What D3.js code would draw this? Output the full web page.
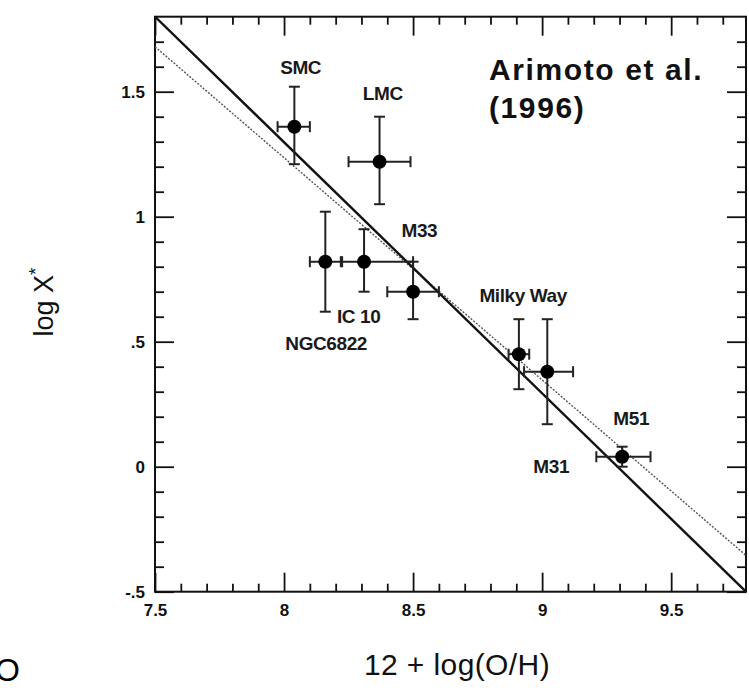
<!DOCTYPE html>
<html>
<head>
<meta charset="utf-8">
<script src="https://cdn.jsdelivr.net/npm/d3@7"></script>
<style>
  body { margin: 0; background: #fff; }
  svg text { font-family: "Liberation Sans", Arial, sans-serif; }
</style>
</head>
<body>
<div id="chart"></div>
<script>
// galaxies, 12+log(O/H) vs log X*
const galaxies     = ["SMC", "LMC", "NGC6822", "IC 10", "M33", "Milky Way", "Milky Way", "M51/M31"];
const ohValues     = [8.04, 8.37, 8.16, 8.31, 8.50, 8.91, 9.02, 9.31];
const ohErrLow     = [0.065, 0.12, 0.06, 0.09, 0.10, 0.04, 0.09, 0.10];
const ohErrHigh    = [0.06, 0.12, 0.065, 0.19, 0.10, 0.04, 0.10, 0.11];
const logXValues   = [1.36, 1.22, 0.82, 0.82, 0.70, 0.45, 0.38, 0.04];
const logXErrLow   = [0.15, 0.17, 0.20, 0.12, 0.11, 0.14, 0.21, 0.04];
const logXErrHigh  = [0.16, 0.18, 0.20, 0.13, 0.12, 0.14, 0.21, 0.04];

// fitted relations (end points in data units)
const solidFit  = [[7.5, 1.80], [9.79, -0.50]];
const dottedFit = [[7.5, 1.68], [9.79, -0.355]];

// point labels, placed in data units
const labelText = ["SMC", "LMC", "M33", "IC 10", "NGC6822", "Milky Way", "M51", "M31"];
const labelX    = [7.985, 8.305, 8.455, 8.205, 8.005, 8.757, 9.276, 8.966];
const labelY    = [1.571, 1.467, 0.919, 0.575, 0.467, 0.660, 0.167, -0.026];

const xTickLabels = ["7.5", "8", "8.5", "9", "9.5"];
const yTickLabels = ["-.5", "0", ".5", "1", "1.5"];
const xMajor = [7.5, 8, 8.5, 9, 9.5];
const yMajor = [-0.5, 0, 0.5, 1, 1.5];

const W = 749, H = 691;
const margin = { top: 16.7, left: 155 },
      width = 591,
      height = 575;

const svg = d3.select("#chart").append("svg")
    .attr("width", W)
    .attr("height", H);

const g = svg.append("g")
    .attr("transform", `translate(${margin.left},${margin.top})`);

const x = d3.scaleLinear().domain([7.5, 9.79]).range([0, width]);
const y = d3.scaleLinear().domain([-0.5, 1.8]).range([height, 0]);

const xMinor = d3.range(76, 98).map(d => d / 10).filter(d => !xMajor.includes(d));
const yMinor = d3.range(-4, 18).map(d => d / 10).filter(d => !yMajor.includes(d));

function styleAxis(sel) {
    sel.select(".domain").remove();
    sel.selectAll(".tick line").attr("stroke", "#111").attr("stroke-width", 1.8);
    sel.selectAll(".tick text")
       .attr("fill", "#111")
       .attr("font-size", 17)
       .attr("font-weight", "bold");
}

// bottom
g.append("g").attr("transform", `translate(0,${height})`)
  .call(d3.axisBottom(x).tickValues(xMajor).tickSize(-19).tickPadding(12)
        .tickFormat((d, i) => xTickLabels[i]))
  .call(styleAxis);
g.append("g").attr("transform", `translate(0,${height})`)
  .call(d3.axisBottom(x).tickValues(xMinor).tickSize(-8).tickFormat(""))
  .call(styleAxis);
// top
g.append("g")
  .call(d3.axisTop(x).tickValues(xMajor).tickSize(-19).tickFormat(""))
  .call(styleAxis);
g.append("g")
  .call(d3.axisTop(x).tickValues(xMinor).tickSize(-8).tickFormat(""))
  .call(styleAxis);
// left
g.append("g")
  .call(d3.axisLeft(y).tickValues(yMajor).tickSize(-19).tickPadding(10)
        .tickFormat((d, i) => yTickLabels[i]))
  .call(styleAxis);
g.append("g")
  .call(d3.axisLeft(y).tickValues(yMinor).tickSize(-9).tickFormat(""))
  .call(styleAxis);
// right
g.append("g").attr("transform", `translate(${width},0)`)
  .call(d3.axisRight(y).tickValues(yMajor).tickSize(-19).tickFormat(""))
  .call(styleAxis);
g.append("g").attr("transform", `translate(${width},0)`)
  .call(d3.axisRight(y).tickValues(yMinor).tickSize(-9).tickFormat(""))
  .call(styleAxis);

// frame
g.append("rect")
  .attr("width", width).attr("height", height)
  .attr("fill", "none").attr("stroke", "#111").attr("stroke-width", 2);

g.append("clipPath").attr("id", "plotclip")
  .append("rect").attr("width", width).attr("height", height);

const line = d3.line().x(d => x(d[0])).y(d => y(d[1]));

g.append("path")
  .datum(dottedFit)
  .attr("clip-path", "url(#plotclip)")
  .attr("fill", "none")
  .attr("stroke", "#555")
  .attr("stroke-width", 1.4)
  .attr("stroke-dasharray", "2,1.5")
  .attr("d", line);

g.append("path")
  .datum(solidFit)
  .attr("clip-path", "url(#plotclip)")
  .attr("fill", "none")
  .attr("stroke", "#111")
  .attr("stroke-width", 2.4)
  .attr("d", line);

// error bars
const pts = ohValues.map((v, i) => ({
    name: galaxies[i], x: v, y: logXValues[i],
    xl: v - ohErrLow[i], xh: v + ohErrHigh[i],
    yl: logXValues[i] - logXErrLow[i], yh: logXValues[i] + logXErrHigh[i]
}));

const cap = 5.5;
const eb = g.append("g").attr("stroke", "#222").attr("stroke-width", 2).attr("fill", "none");
pts.forEach(d => {
    eb.append("line").attr("x1", x(d.xl)).attr("x2", x(d.xh)).attr("y1", y(d.y)).attr("y2", y(d.y));
    eb.append("line").attr("x1", x(d.x)).attr("x2", x(d.x)).attr("y1", y(d.yl)).attr("y2", y(d.yh));
    [d.xl, d.xh].forEach(v => eb.append("line")
        .attr("x1", x(v)).attr("x2", x(v)).attr("y1", y(d.y) - cap).attr("y2", y(d.y) + cap));
    [d.yl, d.yh].forEach(v => eb.append("line")
        .attr("x1", x(d.x) - cap).attr("x2", x(d.x) + cap).attr("y1", y(v)).attr("y2", y(v)));
});

g.selectAll("circle.pt")
  .data(pts)
  .enter().append("circle")
  .attr("class", "pt")
  .attr("cx", d => x(d.x))
  .attr("cy", d => y(d.y))
  .attr("r", 7)
  .attr("fill", "#000");

// point labels
g.selectAll("text.lbl")
  .data(labelText)
  .enter().append("text")
  .attr("class", "lbl")
  .attr("x", (d, i) => x(labelX[i]))
  .attr("y", (d, i) => y(labelY[i]))
  .attr("font-size", 19)
  .attr("font-weight", "bold")
  .attr("fill", "#1a1a1a")
  .attr("letter-spacing", -0.4)
  .text(d => d);

// reference annotation
const note = g.append("text")
  .attr("x", 334)
  .attr("y", 63.5)
  .attr("font-family", "Lato, 'Open Sans', sans-serif")
  .attr("font-size", 30)
  .attr("font-weight", "bold")
  .attr("letter-spacing", 1.6)
  .attr("fill", "#111");
note.append("tspan").attr("x", 334).text("Arimoto et al.");
note.append("tspan").attr("x", 334).attr("dy", 38).text("(1996)");

// axis titles
svg.append("text")
  .attr("x", 457)
  .attr("y", 675)
  .attr("text-anchor", "middle")
  .attr("font-size", 30)
  .attr("letter-spacing", 0.4)
  .attr("fill", "#111")
  .text("12 + log(O/H)");

const yt = svg.append("text")
  .attr("transform", "translate(53,302) rotate(-90)")
  .attr("text-anchor", "middle")
  .attr("font-size", 27)
  .attr("fill", "#111");
yt.append("tspan").text("log X");
yt.append("tspan").attr("dy", -11).attr("font-size", 19).text("*");

// cropped glyph at the lower-left edge
svg.append("text")
  .attr("x", -5)
  .attr("y", 681)
  .attr("font-size", 32)
  .attr("fill", "#000")
  .text("O");
</script>
</body>
</html>
